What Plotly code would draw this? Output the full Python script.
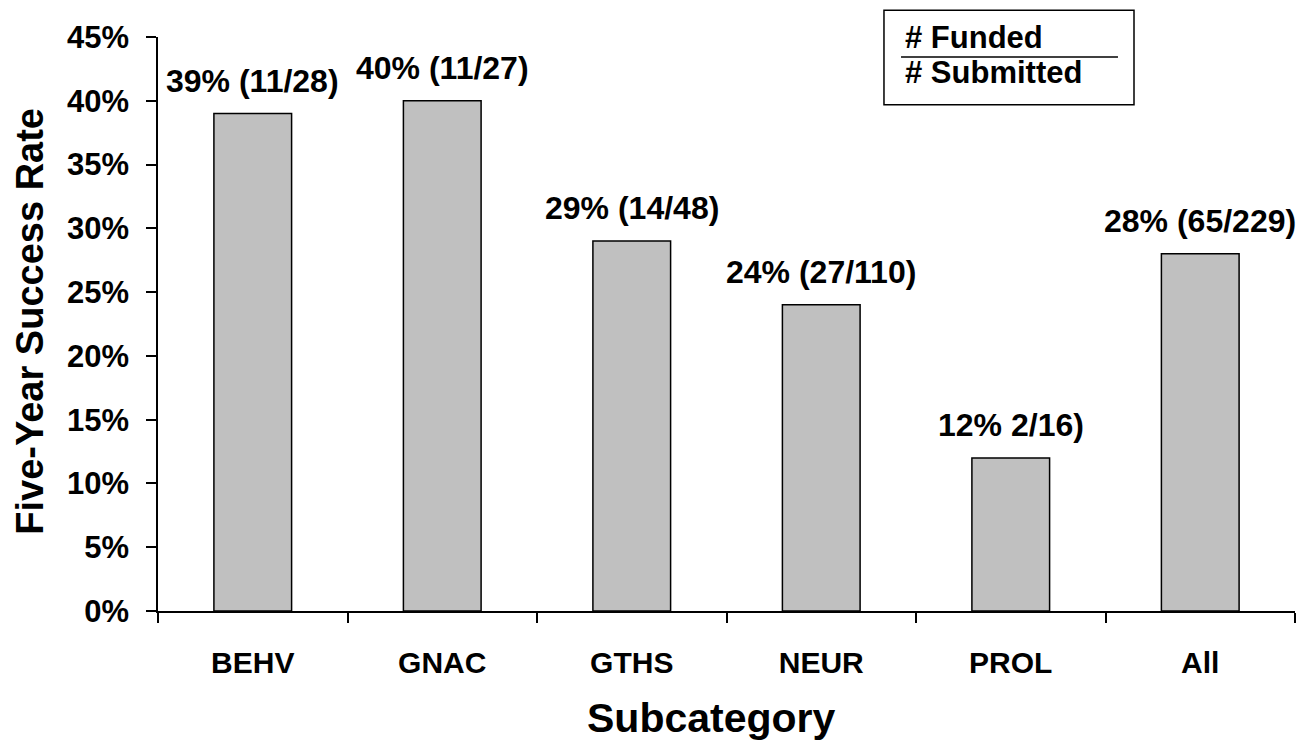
import plotly.graph_objects as go

categories = ["BEHV", "GNAC", "GTHS", "NEUR", "PROL", "All"]
success_rate = [39, 40, 29, 24, 12, 28]
bar_labels = ["39% (11/28)", "40% (11/27)", "29% (14/48)", "24% (27/110)", "12% 2/16)", "28% (65/229)"]
y_ticks = [0, 5, 10, 15, 20, 25, 30, 35, 40, 45]
y_tick_text = [f"{v}%" for v in y_ticks]

FONT = "Liberation Sans, Arial, sans-serif"

fig = go.Figure()
fig.add_trace(go.Bar(
    x=categories, y=success_rate,
    marker=dict(color="#C0C0C0", line=dict(color="black", width=1.5)),
    width=0.41, hoverinfo="skip",
))

for c, v, t in zip(categories, success_rate, bar_labels):
    fig.add_annotation(x=c, y=v, text=f"<b>{t}</b>", showarrow=False,
                       yanchor="middle", yshift=33,
                       font=dict(family=FONT, size=32, color="black"))

# axis titles
fig.add_annotation(xref="paper", yref="paper", x=0.487, y=-0.186,
                   text="<b>Subcategory</b>", showarrow=False,
                   xanchor="center", yanchor="middle",
                   font=dict(family=FONT, size=41, color="black"))
fig.add_annotation(xref="paper", yref="paper", x=(30-158)/1137, y=0.504,
                   text="<b>Five-Year Success Rate</b>", showarrow=False,
                   textangle=-90, xanchor="center", yanchor="middle",
                   font=dict(family=FONT, size=38, color="black"))

# legend-like box
fig.add_shape(type="rect", xref="paper", yref="paper",
              x0=0.6385, x1=0.8584, y0=0.8821, y1=1.0468,
              line=dict(color="black", width=1.5), fillcolor="white", layer="below")
fig.add_shape(type="line", xref="paper", yref="paper",
              x0=0.6535, x1=0.8443, y0=0.9653, y1=0.9653,
              line=dict(color="black", width=1.5))
fig.add_annotation(xref="paper", yref="paper", x=0.6552, y=(611-34)/577,
                   text="<b># Funded</b>", showarrow=False,
                   xanchor="left", yanchor="middle",
                   font=dict(family=FONT, size=31, color="black"))
fig.add_annotation(xref="paper", yref="paper", x=0.6552, y=(611-70)/577,
                   text="<b># Submitted</b>", showarrow=False,
                   xanchor="left", yanchor="middle",
                   font=dict(family=FONT, size=31, color="black"))

# page body has an 8px margin, so the figure is shrunk and margins offset
fig.update_layout(
    width=1302, height=732,
    margin=dict(l=150, r=15, t=26, b=129),
    plot_bgcolor="white", paper_bgcolor="white",
    showlegend=False,
    bargap=0.59,
    font=dict(family=FONT, color="black"),
)
fig.update_xaxes(
    range=[-0.5, 5.5], tickson="boundaries", ticks="outside", ticklen=10,
    tickwidth=1.5, tickcolor="black", showline=True, linecolor="black", linewidth=1.5,
    showgrid=False, tickfont=dict(family=FONT, size=30, color="black"),
    ticklabelstandoff=24,
    tickvals=categories, ticktext=[f"<b>{c}</b>" for c in categories],
)
fig.update_yaxes(
    range=[0, 45], tickvals=y_ticks, ticktext=[f"<b>{t}</b>" for t in y_tick_text],
    ticks="outside", ticklen=10, tickwidth=1.5, tickcolor="black",
    showline=True, linecolor="black", linewidth=1.5, showgrid=False, zeroline=False,
    tickfont=dict(family=FONT, size=31, color="black"), ticklabelstandoff=11,
)

fig.write_html("out.html")
